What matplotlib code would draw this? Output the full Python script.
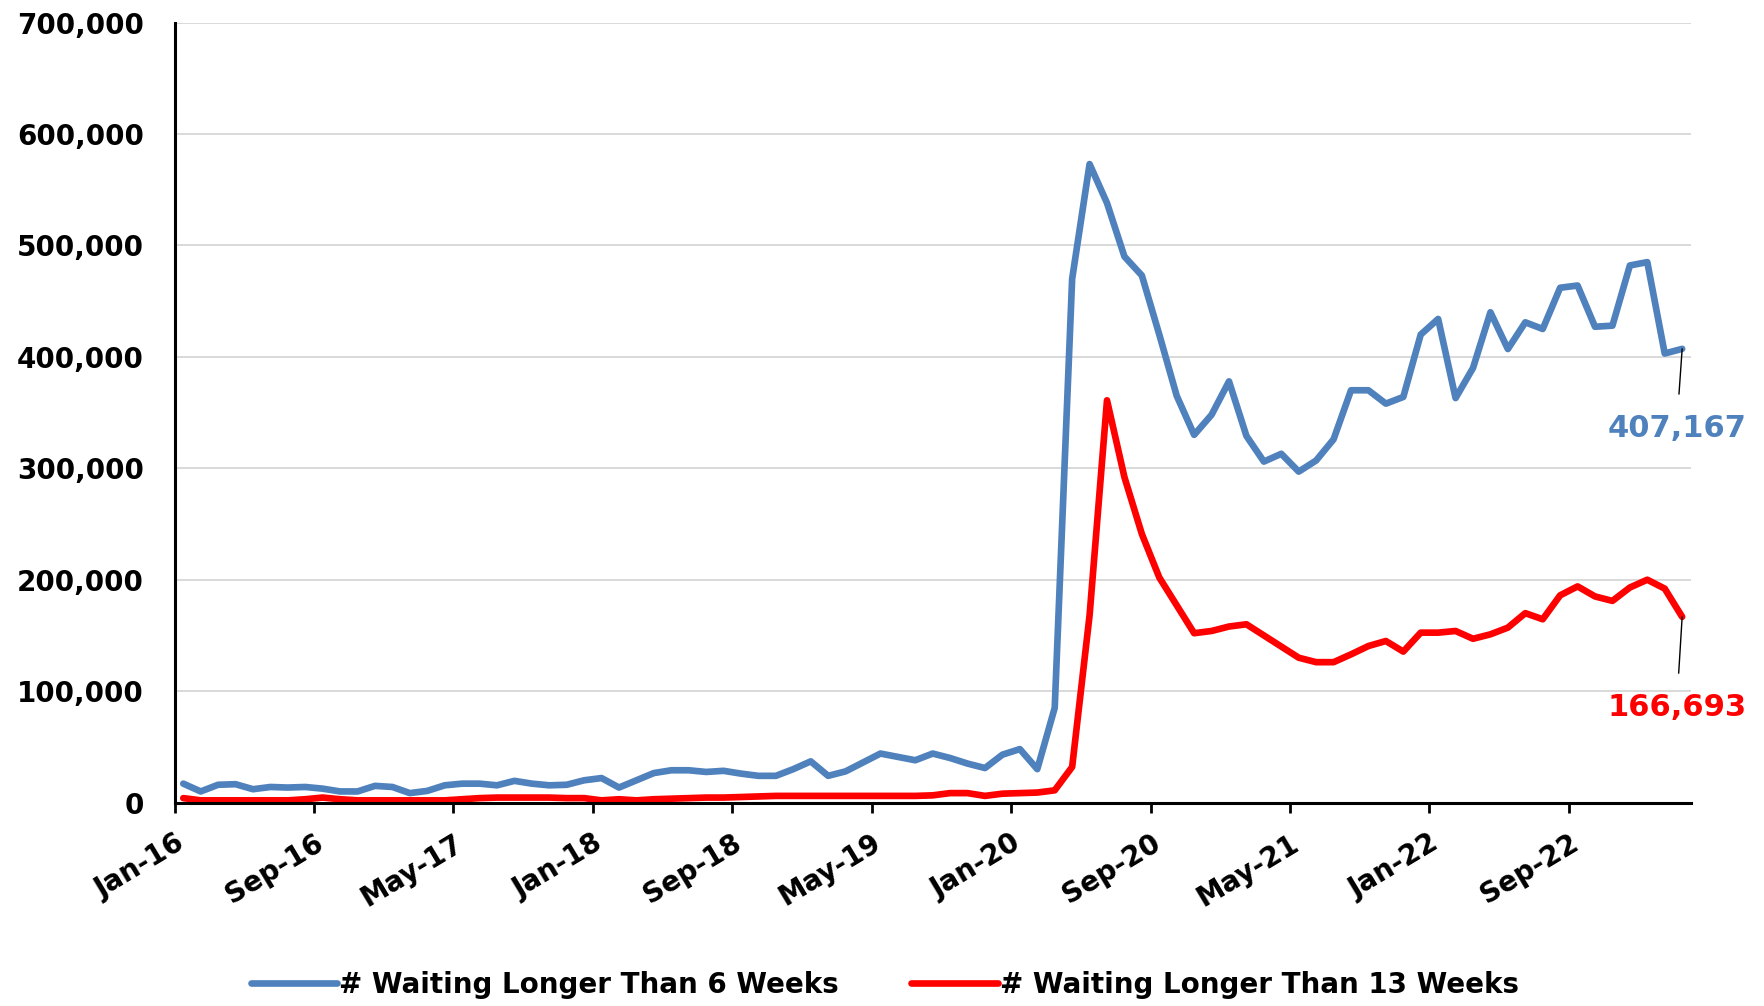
import numpy as np
import pandas as pd
import matplotlib
matplotlib.use("Agg")
import matplotlib.pyplot as plt
from matplotlib.ticker import FuncFormatter, FixedLocator

# Monthly counts, Jan 2016 - Mar 2023
months = pd.date_range("2016-01-01", periods=87, freq="MS")

waiting_6wk = [
    17000, 10000, 16000, 16500, 12000, 14000, 13500, 14000, 12500, 10000,
    10000, 15000, 14000, 8500, 10500, 15500, 17000, 17000, 15500, 19500,
    17000, 15500, 16000, 20000, 22000, 13500, 20000, 26500, 29000, 29000,
    27500, 28500, 26000, 24000, 24000, 30000, 37000, 24000, 28000, 36000,
    44000, 41000, 38000, 44000, 40000, 35000, 31000, 43000, 48000, 30000,
    85000, 470000, 573000, 538000, 490000, 473000, 420000, 365000, 330000, 348000,
    378000, 329000, 306000, 313000, 297000, 307000, 326000, 370000, 370000, 358000,
    364000, 420000, 434000, 363000, 390000, 440000, 407000, 431000, 425000, 462000,
    464000, 427000, 428000, 482000, 485000, 403000, 407167,
]

waiting_13wk = [
    4000, 2000, 2000, 2000, 2000, 2000, 2000, 3000, 4500, 3000,
    2000, 2000, 2000, 2000, 2000, 2000, 3000, 4000, 4500, 4500,
    4500, 4500, 4000, 4000, 2000, 3000, 2000, 3000, 3500, 4000,
    4500, 4500, 5000, 5500, 6000, 6000, 6000, 6000, 6000, 6000,
    6000, 6000, 6000, 6500, 8500, 8500, 6000, 8000, 8500, 9000,
    11000, 32000, 168000, 361000, 292000, 241000, 202000, 177000, 152000, 154000,
    158000, 160000, 150000, 140000, 130000, 126000, 126000, 133000, 140500, 145000,
    135500, 152500, 152500, 154000, 147000, 151000, 157000, 170000, 164500, 186000,
    194000, 185000, 181000, 193000, 200000, 192000, 166693,
]

tick_labels = ["Jan-16", "Sep-16", "May-17", "Jan-18", "Sep-18", "May-19",
               "Jan-20", "Sep-20", "May-21", "Jan-22", "Sep-22"]
y_ticks = [0, 100000, 200000, 300000, 400000, 500000, 600000, 700000]

series_names = ["# Waiting Longer Than 6 Weeks", "# Waiting Longer Than 13 Weeks"]
BLUE = "#4F81BD"
RED = "#FF0000"

plt.rcParams["font.family"] = ["DejaVu Sans"]
plt.rcParams["font.weight"] = "bold"

fig = plt.figure(figsize=(17.65, 10.06), dpi=100)
ax = fig.add_axes([0.0989, 0.2022, 0.8591, 0.7754])

n = len(months)
x = np.arange(n) + 0.5  # each month centred in its slot

ax.plot(x, waiting_6wk, color=BLUE, lw=4.8, solid_joinstyle="round",
        solid_capstyle="round", label=series_names[0], zorder=3)
ax.plot(x, waiting_13wk, color=RED, lw=4.8, solid_joinstyle="round",
        solid_capstyle="round", label=series_names[1], zorder=3)

ax.set_xlim(0, n)
ax.set_ylim(0, 700000)

# x ticks every 8 months at slot boundaries
tick_pos = [months.get_loc(pd.to_datetime("01-" + t, format="%d-%b-%y")) for t in tick_labels]
ax.xaxis.set_major_locator(FixedLocator(tick_pos))
ax.set_xticklabels(tick_labels, rotation=31, ha="right", va="top",
                   rotation_mode="anchor", fontsize=20, fontweight="bold")
ax.tick_params(axis="x", direction="out", length=7, width=2, pad=12, color="black")

ax.set_yticks(y_ticks)
ax.yaxis.set_major_formatter(FuncFormatter(lambda v, p: f"{int(v):,}"))
ax.tick_params(axis="y", length=0, pad=22, labelsize=20)
for lab in ax.get_yticklabels():
    lab.set_fontweight("bold")

ax.grid(axis="y", color="#D9D9D9", lw=1.4)
ax.set_axisbelow(True)
for side in ("top", "right"):
    ax.spines[side].set_visible(False)
ax.spines["left"].set_linewidth(2.2)
ax.spines["bottom"].set_linewidth(2.2)
ax.spines["left"].set_zorder(4)
ax.spines["bottom"].set_zorder(4)

# value callouts for the latest month
last_x = x[-1]
ax.annotate(f"{waiting_6wk[-1]:,}", xy=(last_x, waiting_6wk[-1]),
            xytext=(-4, -57), textcoords="offset points",
            ha="center", va="center", fontsize=22, fontweight="bold", color=BLUE,
            arrowprops=dict(arrowstyle="-", color="black", lw=1.0,
                            shrinkA=12, shrinkB=0), annotation_clip=False)
ax.annotate(f"{waiting_13wk[-1]:,}", xy=(last_x, waiting_13wk[-1]),
            xytext=(-4, -65), textcoords="offset points",
            ha="center", va="center", fontsize=22, fontweight="bold", color=RED,
            arrowprops=dict(arrowstyle="-", color="black", lw=1.0,
                            shrinkA=12, shrinkB=0), annotation_clip=False)

fig.legend(loc="center", bbox_to_anchor=(0.5014, 0.021), ncol=2, frameon=False,
           handlelength=3.1, handletextpad=0.1, columnspacing=2.6,
           prop={"weight": "bold", "size": 20})

fig.savefig("out.png", dpi=100, facecolor="white")
